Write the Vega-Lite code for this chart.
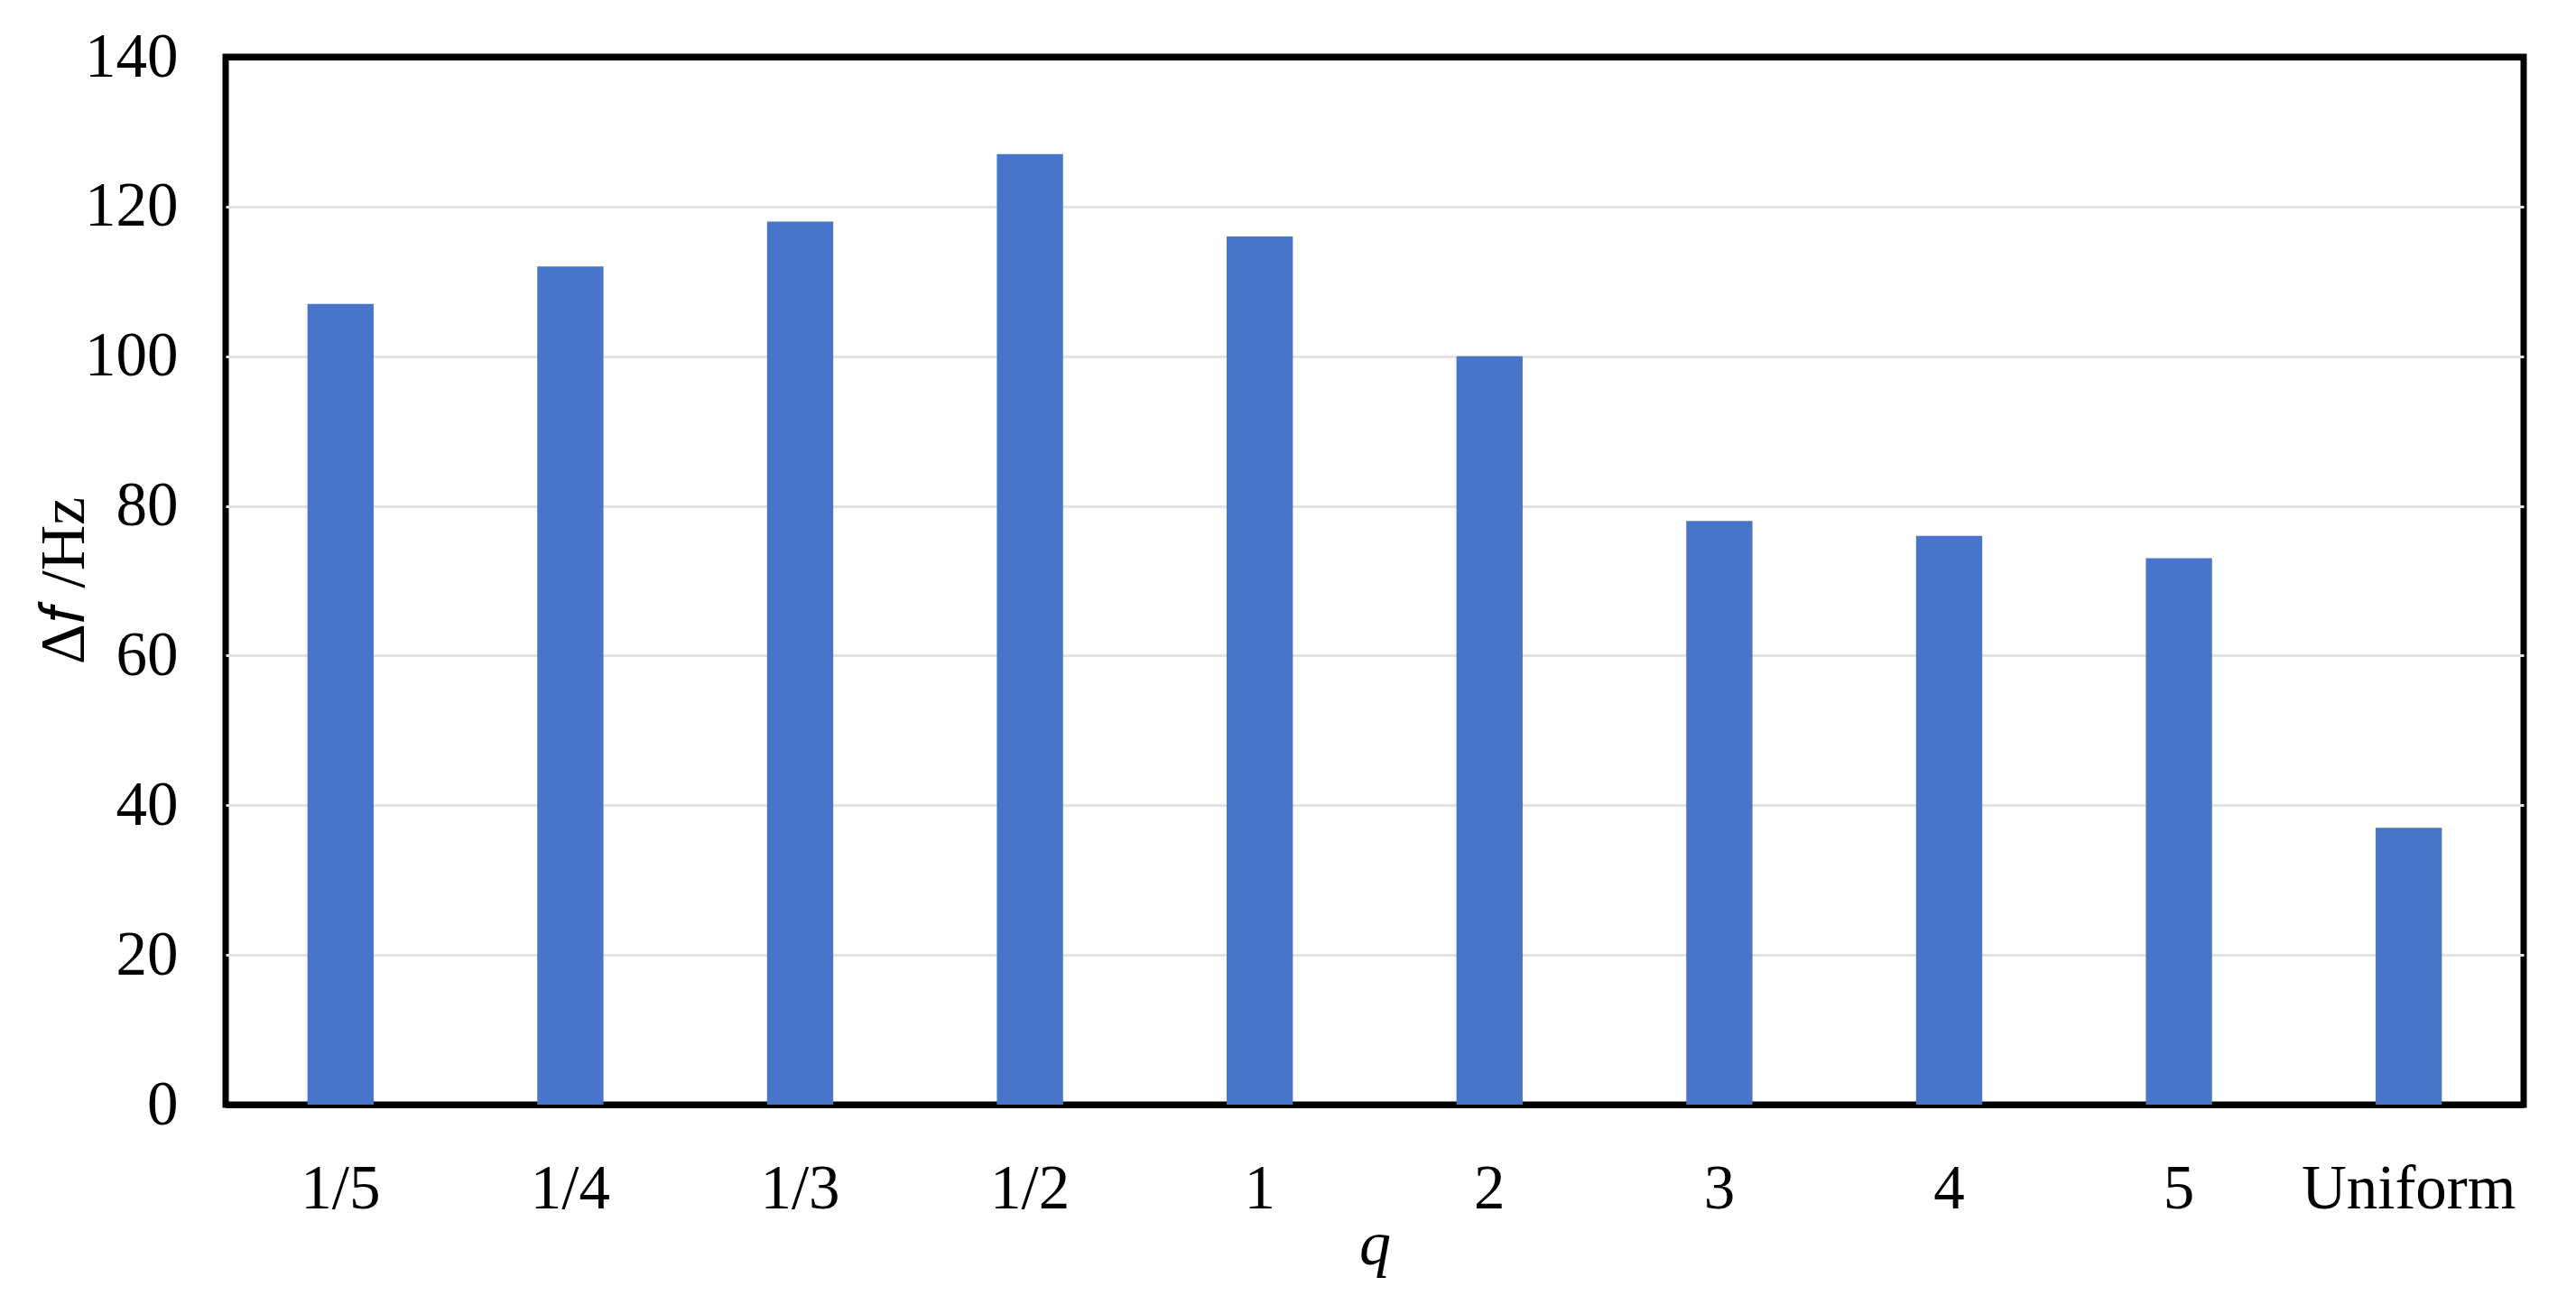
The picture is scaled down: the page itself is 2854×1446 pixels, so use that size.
{
  "$schema": "https://vega.github.io/schema/vega-lite/v6.json",
  "autosize": {"type": "none"},
  "padding": {"left": 250, "top": 63, "right": 58, "bottom": 222},
  "width": 2546,
  "height": 1161,
  "background": "white",
  "config": {
    "view": {"stroke": "black", "strokeWidth": 7},
    "font": "Liberation Serif"
  },
  "data": {
    "values": [
      {"q": "1/5", "df": 107},
      {"q": "1/4", "df": 112},
      {"q": "1/3", "df": 118},
      {"q": "1/2", "df": 127},
      {"q": "1", "df": 116},
      {"q": "2", "df": 100},
      {"q": "3", "df": 78},
      {"q": "4", "df": 76},
      {"q": "5", "df": 73},
      {"q": "Uniform", "df": 37}
    ]
  },
  "mark": {"type": "bar", "color": "#4874CA", "width": {"band": 0.288}},
  "encoding": {
    "x": {
      "field": "q",
      "type": "nominal",
      "sort": null,
      "scale": {"paddingInner": 0, "paddingOuter": 0},
      "axis": {
        "title": "q",
        "titleFont": "Liberation Serif",
        "titleFontStyle": "italic",
        "titleFontWeight": "normal",
        "titleFontSize": 70,
        "titleColor": "black",
        "titleBaseline": "alphabetic",
        "titleY": 176,
        "labelAngle": 0,
        "labelFont": "Liberation Serif",
        "labelFontSize": 69,
        "labelColor": "black",
        "labelPadding": 59,
        "labelLimit": 0,
        "labelOverlap": false,
        "ticks": false,
        "tickSize": 0,
        "domain": false,
        "grid": false
      }
    },
    "y": {
      "field": "df",
      "type": "quantitative",
      "scale": {"domain": [0, 140], "nice": false},
      "axis": {
        "title": "Δ𝑓 /Hz",
        "titleFont": "Liberation Serif",
        "titleFontWeight": "normal",
        "titleFontSize": 70,
        "titleColor": "black",
        "titleAngle": -90,
        "titleBaseline": "alphabetic",
        "titleAlign": "center",
        "titleX": -158,
        "titleY": 580,
        "values": [0, 20, 40, 60, 80, 100, 120, 140],
        "labelFont": "Liberation Serif",
        "labelFontSize": 69,
        "labelColor": "black",
        "labelPadding": 53,
        "ticks": false,
        "tickSize": 0,
        "domain": false,
        "grid": true,
        "gridColor": {"condition": {"test": "datum.value === 140 || datum.value === 0", "value": "black"}, "value": "#e3e3e3"},
        "gridWidth": {"condition": {"test": "datum.value === 140 || datum.value === 0", "value": 7}, "value": 3}
      }
    }
  }
}
